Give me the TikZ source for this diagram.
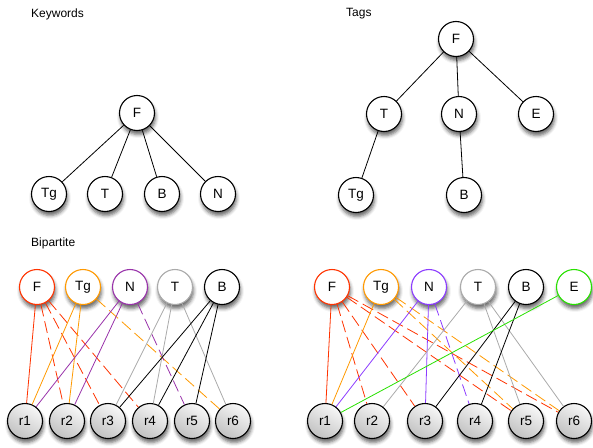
\documentclass[tikz,border=0pt]{standalone}
\usepackage{fontspec}
\setmainfont{Liberation Sans}
\usetikzlibrary{shadows.blur}

\definecolor{kred}{RGB}{255,51,0}
\definecolor{korange}{RGB}{255,153,0}
\definecolor{kpurple}{RGB}{153,51,170}
\definecolor{kviolet}{RGB}{140,60,255}
\definecolor{kgray}{RGB}{170,170,170}
\definecolor{kgreen}{RGB}{40,225,0}

\tikzset{
  vtx/.style={circle, draw=black, line width=1.1pt, fill=white,
    minimum size=35pt, inner sep=0pt, font=\fontsize{13.5}{13.5}\selectfont,
    blur shadow={shadow xshift=1pt, shadow yshift=-4pt,
      shadow blur radius=3.5pt, shadow opacity=60}},
  doc/.style={vtx, top color=gray!6, bottom color=gray!48, shading angle=-30},
  title/.style={anchor=west, inner sep=0pt, font=\fontsize{12}{12}\selectfont},
  link/.style={line width=0.8pt},
  broken/.style={link, dash pattern=on 12pt off 5pt},
}

\begin{document}
\begin{tikzpicture}[x=1pt, y=-1pt]
\useasboundingbox (0,0) rectangle (593,447);

% section titles
\node[title] (tkw) at (31,14) {Keywords};
\node[title] (ttg) at (346,14) {Tags};
\node[title] (tbp) at (31,243) {Bipartite};

% keyword tree
\node[vtx] (kF)  at (137,113) {F};
\node[vtx] (kTg) at (49,194)  {Tg};
\node[vtx] (kT)  at (105,194) {T};
\node[vtx] (kB)  at (162,194) {B};
\node[vtx] (kN)  at (218,194) {N};
\foreach \c in {kTg,kT,kB,kN} \draw[link] (kF) -- (\c);

% tag tree
\node[vtx] (tF)  at (456,39)  {F};
\node[vtx] (tT)  at (384,114) {T};
\node[vtx] (tN)  at (459,114) {N};
\node[vtx] (tE)  at (536,114) {E};
\node[vtx] (tTg) at (356,195) {Tg};
\node[vtx] (tB)  at (464,195) {B};
\draw[link] (tF) -- (tT);
\draw[link] (tF) -- (tN);
\draw[link] (tF) -- (tE);
\draw[link] (tT) -- (tTg);
\draw[link] (tN) -- (tB);

% bipartite graph, keywords
\node[vtx, draw=kred]    (lF)  at (37,287)  {F};
\node[vtx, draw=korange] (lTg) at (83,287)  {Tg};
\node[vtx, draw=kpurple] (lN)  at (130,287) {N};
\node[vtx, draw=kgray]   (lT)  at (175,287) {T};
\node[vtx]               (lB)  at (222,287) {B};
\node[doc] (l1) at (25,421)  {r1};
\node[doc] (l2) at (67,421)  {r2};
\node[doc] (l3) at (108,421) {r3};
\node[doc] (l4) at (150,421) {r4};
\node[doc] (l5) at (192,421) {r5};
\node[doc] (l6) at (233,421) {r6};

\draw[link, kred] (lF) -- (l1);
\draw[broken, kred] (lF) -- (l2);
\draw[broken, kred] (lF) -- (l3);
\draw[broken, kred] (lF) -- (l4);
\draw[link, korange] (lTg) -- (l1);
\draw[link, korange] (lTg) -- (l2);
\draw[broken, korange] (lTg) -- (l6);
\draw[link, kpurple] (lN) -- (l1);
\draw[link, kpurple] (lN) -- (l2);
\draw[broken, kpurple] (lN) -- (l5);
\draw[link, kgray] (lT) -- (l3);
\draw[link, kgray] (lT) -- (l4);
\draw[link, kgray] (lT) -- (l6);
\draw[link] (lB) -- (l3);
\draw[link] (lB) -- (l4);
\draw[link] (lB) -- (l5);

% bipartite graph, tags
\node[vtx, draw=kred]    (rF)  at (332,287) {F};
\node[vtx, draw=korange] (rTg) at (381,287) {Tg};
\node[vtx, draw=kviolet] (rN)  at (429,287) {N};
\node[vtx, draw=kgray]   (rT)  at (478,287) {T};
\node[vtx]               (rB)  at (526,287) {B};
\node[vtx, draw=kgreen]  (rE)  at (574,287) {E};
\node[doc] (r1) at (325,421) {r1};
\node[doc] (r2) at (372,421) {r2};
\node[doc] (r3) at (425,421) {r3};
\node[doc] (r4) at (475,421) {r4};
\node[doc] (r5) at (526,421) {r5};
\node[doc] (r6) at (574,421) {r6};

\draw[link, kred] (rF) -- (r1);
\draw[broken, kred] (rF) -- (r2);
\draw[broken, kred] (rF) -- (r3);
\draw[broken, kred] (rF) -- (r5);
\draw[broken, kred] (rF) -- (r6);
\draw[link, korange] (rTg) -- (r1);
\draw[broken, korange] (rTg) -- (r5);
\draw[broken, korange] (rTg) -- (r6);
\draw[link, kviolet] (rN) -- (r1);
\draw[link, kviolet] (rN) -- (r3);
\draw[broken, kviolet] (rN) -- (r4);
\draw[link, kgray] (rT) -- (r2);
\draw[link, kgray] (rT) -- (r5);
\draw[link, kgray] (rT) -- (r6);
\draw[link] (rB) -- (r3);
\draw[link] (rB) -- (r4);
\draw[link, kgreen] (rE) -- (r1);
\end{tikzpicture}
\end{document}
